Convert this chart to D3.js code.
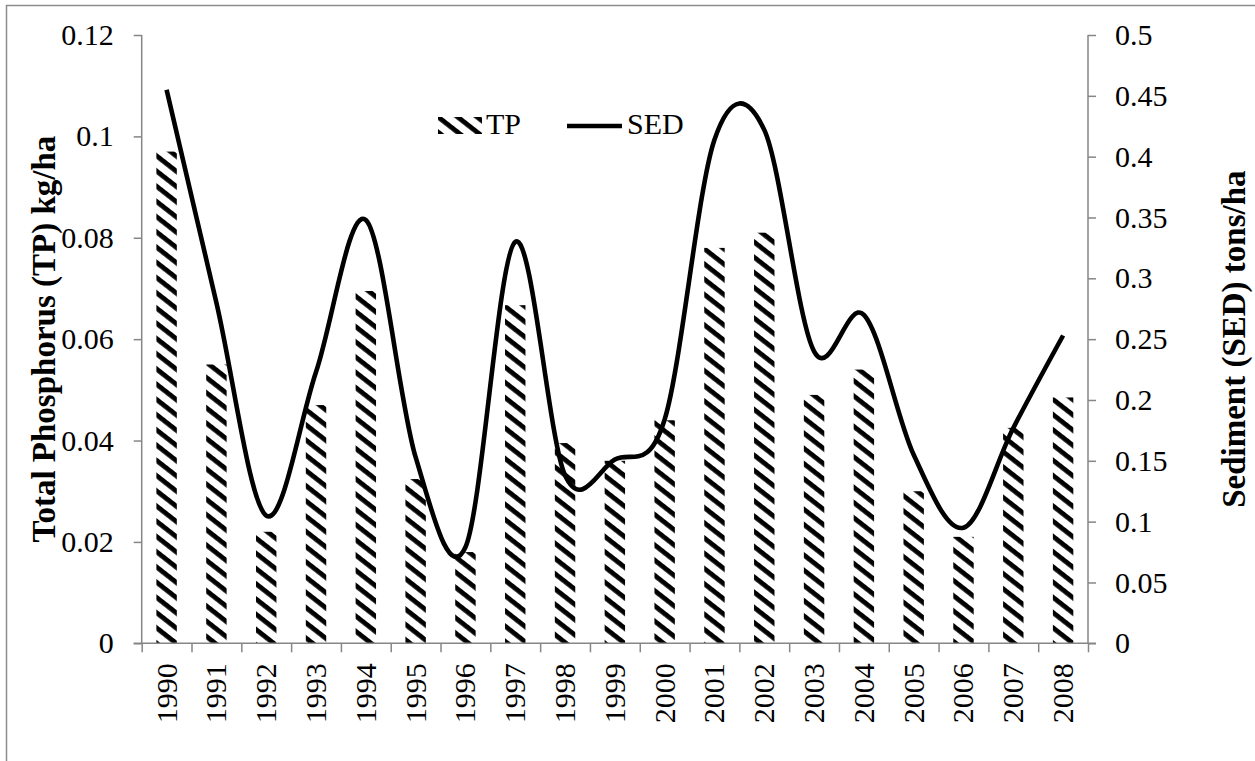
<!DOCTYPE html>
<html lang="en">
<head>
    <meta charset="UTF-8">
    <title>TP and SED 1990-2008</title>
    <style>
        body { margin: 0; overflow: hidden; background: #fff; }
        svg text { font-family: "Liberation Serif", "Times New Roman", serif !important; fill: #000; }
        .axis path, .axis line { stroke: #868686; stroke-width: 1.5px; }
    </style>
</head>
<body>
    <script src="https://d3js.org/d3.v7.min.js"></script>
    <script>
        // Data
        const years = ['1990', '1991', '1992', '1993', '1994', '1995', '1996', '1997', '1998', '1999',
                       '2000', '2001', '2002', '2003', '2004', '2005', '2006', '2007', '2008'];
        const tpValues = [0.097, 0.055, 0.022, 0.047, 0.0695, 0.0324, 0.018, 0.0667, 0.0395, 0.036,
                          0.044, 0.078, 0.081, 0.049, 0.054, 0.030, 0.021, 0.0425, 0.0485];
        const sedValues = [0.455, 0.28, 0.105, 0.223, 0.348, 0.153, 0.079, 0.33, 0.138, 0.151,
                           0.184, 0.414, 0.422, 0.24, 0.27, 0.155, 0.095, 0.177, 0.253];
        const tpTicks = [0, 0.02, 0.04, 0.06, 0.08, 0.1, 0.12];
        const sedTicks = [0, 0.05, 0.1, 0.15, 0.2, 0.25, 0.3, 0.35, 0.4, 0.45, 0.5];

        const width = 1255, height = 761;
        const plotLeft = 141.7, plotRight = 1088, plotTop = 35, plotBottom = 643.3;
        const serif = '"Liberation Serif", "Times New Roman", serif';

        const svg = d3.select('body').append('svg')
            .attr('width', width)
            .attr('height', height)
            .attr('font-family', serif);

        // chart border (only left and top edges are inside the picture)
        svg.append('rect')
            .attr('x', 6.5).attr('y', 5.5)
            .attr('width', 1400).attr('height', 900)
            .attr('fill', 'none')
            .attr('stroke', '#8c8c8c')
            .attr('stroke-width', 1.5);

        // hatch pattern for the TP bars
        const defs = svg.append('defs');
        defs.append('pattern')
            .attr('id', 'hatch')
            .attr('patternUnits', 'userSpaceOnUse')
            .attr('width', 12).attr('height', 12)
            .attr('patternTransform', 'rotate(38)')
            .append('rect')
            .attr('x', 0).attr('y', 0)
            .attr('width', 12).attr('height', 4.8)
            .attr('fill', '#000');

        const x = d3.scaleBand().domain(years).range([plotLeft, plotRight]);
        const yL = d3.scaleLinear().domain([0, 0.12]).range([plotBottom, plotTop]);
        const yR = d3.scaleLinear().domain([0, 0.5]).range([plotBottom, plotTop]);

        const barW = x.bandwidth() * 0.41;

        // bars
        svg.append('g').selectAll('rect')
            .data(years)
            .enter().append('rect')
            .attr('x', (d) => x(d) + (x.bandwidth() - barW) / 2)
            .attr('y', (d, i) => yL(tpValues[i]))
            .attr('width', barW)
            .attr('height', (d, i) => plotBottom - yL(tpValues[i]))
            .attr('fill', 'url(#hatch)');

        // smoothed sediment line
        const line = d3.line()
            .x((d, i) => x(years[i]) + x.bandwidth() / 2)
            .y((d) => yR(d))
            .curve(d3.curveCatmullRom.alpha(0));

        svg.append('path')
            .datum(sedValues)
            .attr('d', line)
            .attr('fill', 'none')
            .attr('stroke', '#000')
            .attr('stroke-width', 4.6)
            .attr('stroke-linejoin', 'round');

        // left axis
        const axL = svg.append('g')
            .attr('class', 'axis')
            .attr('transform', `translate(${plotLeft},0)`)
            .call(d3.axisLeft(yL).tickValues(tpTicks).tickSize(8).tickPadding(20).tickFormat((d) => String(d)));

        // right axis
        const axR = svg.append('g')
            .attr('class', 'axis')
            .attr('transform', `translate(${plotRight},0)`)
            .call(d3.axisRight(yR).tickValues(sedTicks).tickSize(8).tickPadding(19).tickFormat((d) => String(d)));

        [axL, axR].forEach((g) => {
            g.attr('font-family', serif);
            g.selectAll('text').style('font-size', '30px').style('font-family', serif);
            g.select('.domain').attr('d', `M0,${plotTop}V${plotBottom}`);
        });

        // bottom axis: ticks on category boundaries, labels at centres
        const xEdge = d3.scaleLinear().domain([0, years.length]).range([plotLeft, plotRight]);
        svg.append('g')
            .attr('class', 'axis')
            .attr('transform', `translate(0,${plotBottom})`)
            .call(d3.axisBottom(xEdge).tickValues(d3.range(years.length + 1)).tickSize(9).tickFormat(''))
            .select('.domain').attr('d', `M${plotLeft - 8},0H${plotRight + 8}`);

        const axX = svg.append('g')
            .attr('transform', `translate(0,${plotBottom})`)
            .call(d3.axisBottom(x).tickSize(0).tickPadding(0));
        axX.attr('font-family', serif);
        axX.select('.domain').remove();
        axX.selectAll('text')
            .style('font-size', '30px')
            .style('font-family', serif)
            .attr('text-anchor', 'end')
            .attr('transform', 'rotate(-90)')
            .attr('x', -20)
            .attr('y', 0)
            .attr('dy', '0.33em');

        // axis titles
        svg.append('text')
            .attr('transform', `translate(55,${(plotTop + plotBottom) / 2}) rotate(-90)`)
            .attr('text-anchor', 'middle')
            .style('font-size', '33px')
            .style('font-weight', 'bold')
            .text('Total Phosphorus (TP) kg/ha');

        svg.append('text')
            .attr('transform', `translate(1245,${(plotTop + plotBottom) / 2}) rotate(-90)`)
            .attr('text-anchor', 'middle')
            .style('font-size', '33px')
            .style('font-weight', 'bold')
            .text('Sediment (SED) tons/ha');

        // legend
        const legend = svg.append('g');
        legend.append('rect')
            .attr('x', 438).attr('y', 117)
            .attr('width', 44).attr('height', 17)
            .attr('fill', 'url(#hatch)');
        legend.append('text')
            .attr('x', 486).attr('y', 134)
            .style('font-size', '30px')
            .text('TP');
        legend.append('line')
            .attr('x1', 567).attr('x2', 622)
            .attr('y1', 126).attr('y2', 126)
            .attr('stroke', '#000')
            .attr('stroke-width', 4.6);
        legend.append('text')
            .attr('x', 627).attr('y', 134)
            .style('font-size', '30px')
            .text('SED');
    </script>
</body>
</html>
